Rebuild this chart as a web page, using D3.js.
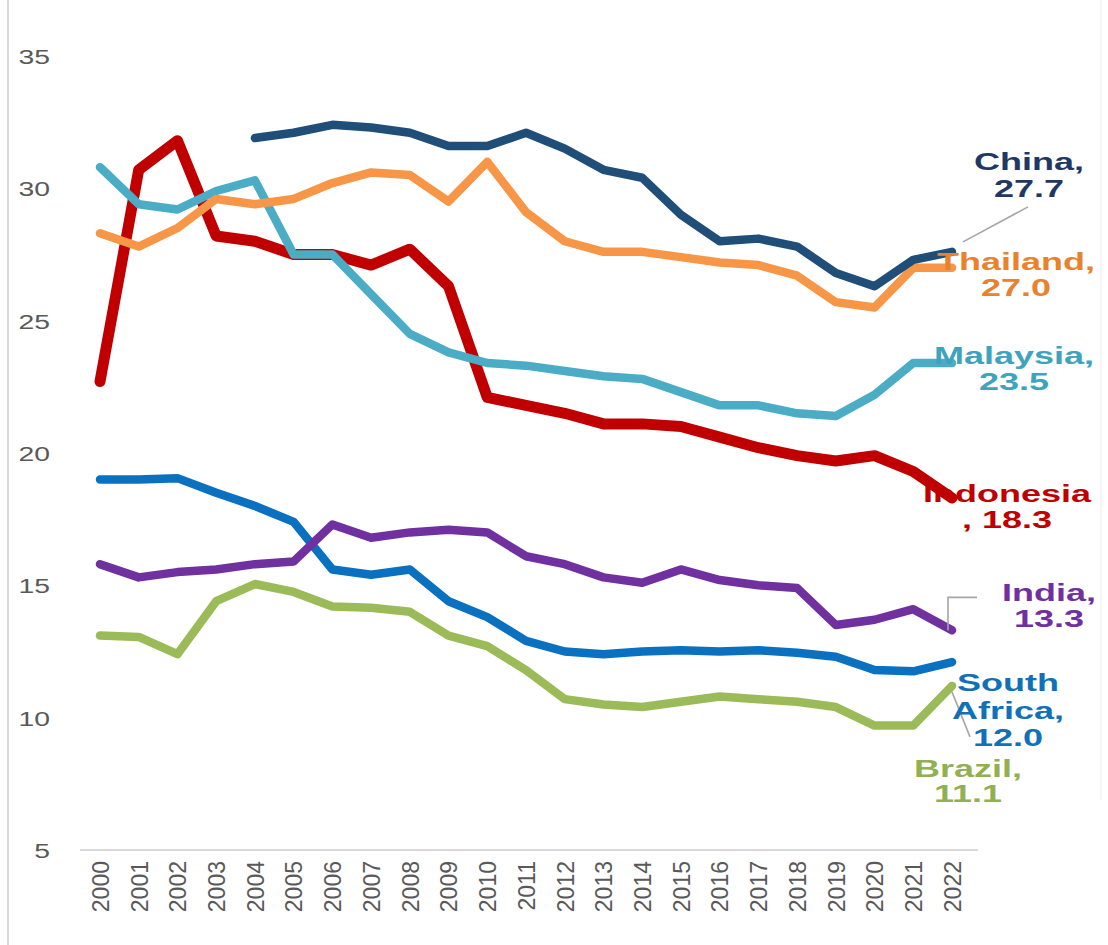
<!DOCTYPE html>
<html>
<head>
<meta charset="utf-8">
<script src="https://cdn.jsdelivr.net/npm/d3@7"></script>
<style>
  body { margin: 0; background: #fff; }
  svg { display: block; font-family: "Liberation Sans", Arial, sans-serif; }
</style>
</head>
<body>
<div id="chart"></div>
<script>
const years = d3.range(2000, 2023);
const y_ticks = [5, 10, 15, 20, 25, 30, 35];

// values, 2000..2022 (China starts 2004)
const china     = [null, null, null, null, 31.9, 32.1, 32.4, 32.3, 32.1, 31.6, 31.6, 32.1, 31.5, 30.7, 30.4, 29.0, 28.0, 28.1, 27.8, 26.8, 26.3, 27.3, 27.6];
const thailand  = [28.3, 27.8, 28.5, 29.6, 29.4, 29.6, 30.2, 30.6, 30.5, 29.5, 31.0, 29.1, 28.0, 27.6, 27.6, 27.4, 27.2, 27.1, 26.7, 25.7, 25.5, 27.0, 27.0];
const malaysia  = [30.8, 29.4, 29.2, 29.9, 30.3, 27.5, 27.5, 26.0, 24.5, 23.8, 23.4, 23.3, 23.1, 22.9, 22.8, 22.3, 21.8, 21.8, 21.5, 21.4, 22.2, 23.4, 23.4];
const indonesia = [22.7, 30.7, 31.8, 28.2, 28.0, 27.5, 27.5, 27.1, 27.7, 26.3, 22.1, 21.8, 21.5, 21.1, 21.1, 21.0, 20.6, 20.2, 19.9, 19.7, 19.9, 19.3, 18.3];
const s_africa  = [19.0, 19.0, 19.05, 18.5, 18.0, 17.4, 15.6, 15.4, 15.6, 14.4, 13.8, 12.9, 12.5, 12.4, 12.5, 12.55, 12.5, 12.55, 12.45, 12.3, 11.8, 11.75, 12.1];
const india     = [15.8, 15.3, 15.5, 15.6, 15.8, 15.9, 17.3, 16.8, 17.0, 17.1, 17.0, 16.1, 15.8, 15.3, 15.1, 15.6, 15.2, 15.0, 14.9, 13.5, 13.7, 14.1, 13.3];
const brazil    = [13.1, 13.05, 12.4, 14.4, 15.05, 14.75, 14.2, 14.15, 14.0, 13.1, 12.7, 11.8, 10.7, 10.5, 10.4, 10.6, 10.8, 10.7, 10.6, 10.4, 9.7, 9.7, 11.2];

const series = [
  { name: "Indonesia",    values: indonesia, color: "#c00000", width: 11 },
  { name: "South Africa", values: s_africa,  color: "#0a70c0", width: 8.5 },
  { name: "Brazil",       values: brazil,    color: "#9bbb59", width: 8.5 },
  { name: "India",        values: india,     color: "#7030a0", width: 8.5 },
  { name: "Malaysia",     values: malaysia,  color: "#4bacc6", width: 8.5 },
  { name: "Thailand",     values: thailand,  color: "#f79646", width: 8.5 },
  { name: "China",        values: china,     color: "#1f4e79", width: 8.5 }
];

// end labels: text lines, colour, centre offset from the last point
const labels = [
  { lines: ["China,", "27.7"],               color: "#1f3864", dx: 77, dy: [-90, -63] },
  { lines: ["Thailand,", "27.0"],            color: "#e8822e", dx: 64, dy: [-6, 20] },
  { lines: ["Malaysia,", "23.5"],            color: "#3ea3bd", dx: 62, dy: [-8, 18] },
  { lines: ["Indonesia", ", 18.3"],          color: "#c00000", dx: 55, dy: [-5, 21] },
  { lines: ["India,", "13.3"],               color: "#7030a0", dx: 97, dy: [-38, -12] },
  { lines: ["South", "Africa,", "12.0"],     color: "#1070b8", dx: 56, dy: [20, 48, 75] },
  { lines: ["Brazil,", "11.1"],              color: "#92b050", dx: 16, dy: [82, 107] }
];

const W = 1108, H = 945;
const x_scale = d3.scalePoint().domain(years).range([100, 952]);
const y_scale = d3.scaleLinear().domain([5, 35]).range([850, 56]);

const svg = d3.select("#chart").append("svg")
  .attr("width", W).attr("height", H);

svg.append("rect").attr("width", W).attr("height", H).attr("fill", "#fff");

// frame lines
svg.append("line").attr("x1", 8).attr("x2", 8).attr("y1", 0).attr("y2", H)
  .attr("stroke", "#d9d9d9").attr("stroke-width", 2);
svg.append("line").attr("x1", 1101).attr("x2", 1101).attr("y1", 0).attr("y2", 800)
  .attr("stroke", "#f2f2f2").attr("stroke-width", 1.5);

// y axis
const y_axis = svg.append("g")
  .attr("transform", "translate(50,0)")
  .call(d3.axisLeft(y_scale).tickValues(y_ticks).tickSize(0).tickPadding(0));
y_axis.select(".domain").remove();
y_axis.selectAll("text")
  .attr("x", 0).attr("dy", "0.36em")
  .attr("text-anchor", "end")
  .attr("transform", "scale(1.35,1)")
  .style("font-size", "21px")
  .style("font-family", "'Liberation Sans', Arial, sans-serif")
  .attr("fill", "#595959");

// x axis
const x_axis = svg.append("g")
  .attr("transform", "translate(0,850)")
  .call(d3.axisBottom(x_scale).tickSize(0));
x_axis.select(".domain").remove();
x_axis.selectAll("text")
  .attr("transform", "rotate(-90)")
  .attr("x", -11).attr("y", 0).attr("dy", "0.36em")
  .attr("text-anchor", "end")
  .style("font-size", "23px")
  .style("font-family", "'Liberation Sans', Arial, sans-serif")
  .attr("fill", "#595959");
svg.append("line").attr("x1", 80).attr("x2", 978).attr("y1", 850).attr("y2", 850)
  .attr("stroke", "#d9d9d9").attr("stroke-width", 2);

// lines
const line = d3.line()
  .defined(d => d[1] != null)
  .x(d => x_scale(d[0]))
  .y(d => y_scale(d[1]));

svg.append("g").selectAll("path")
  .data(series)
  .join("path")
  .attr("d", s => line(years.map((yr, i) => [yr, s.values[i]])))
  .attr("fill", "none")
  .attr("stroke", s => s.color)
  .attr("stroke-width", s => s.width)
  .attr("stroke-linejoin", "round")
  .attr("stroke-linecap", "round");

// leader lines
const last = years.length - 1;
const x_end = x_scale(2022);
const leaders = svg.append("g").attr("stroke", "#a6a6a6").attr("stroke-width", 1.6).attr("fill", "none");
leaders.append("path").attr("d", `M${x_end + 76},${y_scale(china[last]) - 45} L${x_end + 11},${y_scale(china[last]) - 10}`);
leaders.append("path").attr("d", `M${x_end - 4},${y_scale(india[last])} V${y_scale(india[last]) - 33} H${x_end + 25}`);
leaders.append("path").attr("d", `M${x_end},${y_scale(brazil[last]) + 6} L${x_end + 18},${y_scale(brazil[last]) + 51}`);

// end labels
const order = ["China", "Thailand", "Malaysia", "Indonesia", "India", "South Africa", "Brazil"];
labels.forEach((lab, k) => {
  const s = series.find(d => d.name === order[k]);
  const px = x_end + lab.dx;
  const py = y_scale(s.values[last]);
  lab.lines.forEach((t, j) => {
    svg.append("text")
      .attr("transform", `translate(${px},${py + lab.dy[j]}) scale(1.5,1)`)
      .attr("text-anchor", "middle")
      .attr("dy", "0.36em")
      .style("font-size", "24px")
      .style("font-weight", "bold")
      .attr("fill", lab.color)
      .text(t);
  });
});
</script>
</body>
</html>
